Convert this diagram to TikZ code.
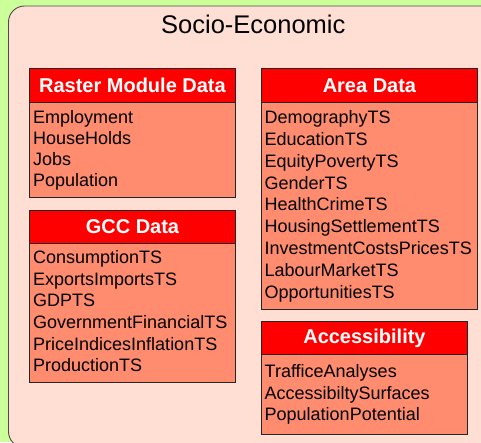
\documentclass[tikz,border=0pt]{standalone}
\usepackage{fontspec}
\setmainfont{Liberation Sans}
\definecolor{bggreen}{HTML}{CCFF99}
\definecolor{panelpink}{HTML}{FFDED4}
\definecolor{salmon}{HTML}{FF8C6E}
\definecolor{hdrred}{HTML}{FF0000}
\tikzset{
  hdr/.style={draw=black!85, line width=0.9pt, fill=hdrred, text=white,
    font=\bfseries\fontsize{20}{24}\selectfont, anchor=north west, inner sep=0pt},
  bodybox/.style={draw=black!85, line width=0.9pt, fill=salmon, anchor=north west, inner sep=0pt},
  item/.style={anchor=base west, inner sep=0pt, font=\fontsize{18}{21.8}\selectfont, text=black}
}
\begin{document}
\begin{tikzpicture}[x=1pt,y=-1pt]
\useasboundingbox (0,0) rectangle (481,442);
\clip (0,0) rectangle (481,442);
\fill[bggreen] (0,0) rectangle (481,442);
\draw[fill=panelpink, draw=black!70, line width=0.9pt, rounded corners=16pt] (8.5,6) rectangle (520,447.5);
\node[font=\fontsize{25.5}{30}\selectfont, anchor=base, inner sep=0pt] (title) at (253.3,33.3) {Socio-Economic};

% Raster Module Data
\node[bodybox, minimum width=206pt, minimum height=95pt] (rmbody) at (29,102) {};
\node[hdr, minimum width=206pt, minimum height=34pt] (rmhead) at (29,68) {Raster Module Data};
\foreach \t [count=\i] in {Employment,HouseHolds,Jobs,Population}
  \node[item] (rm\i) at (33,{123.3+21.2*(\i-1)}) {\t};

% GCC Data
\node[bodybox, minimum width=206pt, minimum height=139pt] (gccbody) at (29,243) {};
\node[hdr, minimum width=206pt, minimum height=33pt] (gcchead) at (29,210) {GCC Data};
\foreach \t [count=\i] in {ConsumptionTS,ExportsImportsTS,GDPTS,GovernmentFinancialTS,PriceIndicesInflationTS,ProductionTS}
  \node[item] (gcc\i) at (33,{263.3+21.7*(\i-1)}) {\t};

% Area Data
\node[bodybox, minimum width=216pt, minimum height=206.5pt] (arbody) at (261,102) {};
\node[hdr, minimum width=216pt, minimum height=34pt] (arhead) at (261,68) {Area Data};
\foreach \t [count=\i] in {DemographyTS,EducationTS,EquityPovertyTS,GenderTS,HealthCrimeTS,HousingSettlementTS,InvestmentCostsPricesTS,LabourMarketTS,OpportunitiesTS}
  \node[item] (ar\i) at (264.5,{123.3+21.9*(\i-1)}) {\t};

% Accessibility
\node[bodybox, minimum width=206pt, minimum height=80pt] (acbody) at (261,354) {};
\node[hdr, minimum width=206pt, minimum height=33pt] (achead) at (261,321) {Accessibility};
\foreach \t [count=\i] in {TrafficeAnalyses,AccessibiltySurfaces,PopulationPotential}
  \node[item] (ac\i) at (264.5,{377.3+21.7*(\i-1)}) {\t};
\end{tikzpicture}
\end{document}
